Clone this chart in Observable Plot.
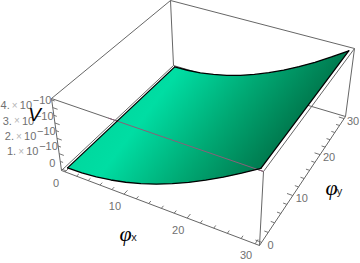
<!DOCTYPE html>
<html><head><meta charset="utf-8">
<script src="https://cdn.jsdelivr.net/npm/d3@7"></script>
<script src="https://cdn.jsdelivr.net/npm/@observablehq/plot@0.6"></script>
<style>html,body{margin:0;padding:0;background:#fff}svg{display:block}</style>
</head><body><div id="chart"></div>
<script>
// Data
const phiX = [0, 2.5, 5, 7.5, 10, 12.5, 15, 17.5, 20, 22.5, 25, 27.5, 30];
const vFront = [0, 0.03, 0.12, 0.28, 0.5, 0.78, 1.12, 1.53, 2.0, 2.53, 3.12, 3.78, 4.5]; // ×10^-10, φy = 0
const vBack  = [0, 0.03, 0.12, 0.28, 0.5, 0.78, 1.12, 1.53, 2.0, 2.53, 3.12, 3.78, 4.5]; // ×10^-10, φy = 30
const phiTicks = [0, 2, 4, 6, 8, 10, 12, 14, 16, 18, 20, 22, 24, 26, 28, 30];
const phiLabels = [0, 10, 20, 30];
const vTicks = [0, 0.5, 1, 1.5, 2, 2.5, 3, 3.5, 4, 4.5];
const vLabels = [1, 2, 3, 4];

// View of the bounding box: screen position of its corners
const floorCorners = [[61, 170], [259, 245], [345, 116], [173, 65]];
const topCorners = [[51, 98], [263, 171], [354, 48], [170, 0]];
const homography = ([[x0, y0], [x1, y1], [x2, y2], [x3, y3]]) => {
  const dx1 = x1 - x2, dx2 = x3 - x2, sx = x0 - x1 + x2 - x3;
  const dy1 = y1 - y2, dy2 = y3 - y2, sy = y0 - y1 + y2 - y3;
  const den = dx1 * dy2 - dx2 * dy1;
  const g = (sx * dy2 - dx2 * sy) / den, h = (dx1 * sy - sx * dy1) / den;
  return (u, v) => {
    const w = g * u + h * v + 1;
    return [((x1 - x0 + g * x1) * u + (x3 - x0 + h * x3) * v + x0) / w,
            ((y1 - y0 + g * y1) * u + (y3 - y0 + h * y3) * v + y0) / w];
  };
};
const floorH = homography(floorCorners), topH = homography(topCorners);
const VMAX = 4.5, PAD = 0.02;
const sc = t => PAD + (1 - 2 * PAD) * t;
const raw = (u, v, w) => {
  const a = floorH(u, v), b = topH(u, v);
  return [a[0] + (b[0] - a[0]) * w, a[1] + (b[1] - a[1]) * w];
};
const project = (px, py, V) => raw(sc(px / 30), sc(py / 30), sc(V / VMAX));
const P = (px, py, V) => { const [x, y] = project(px, py, V); return {x, y}; };

const surface = [
  ...phiX.map((p, i) => P(p, 0, vFront[i])),
  ...phiX.map((p, i) => P(p, 30, vBack[i])).reverse()
];
const frontEdge = phiX.map((p, i) => P(p, 0, vFront[i]));
const backEdge = phiX.map((p, i) => P(p, 30, vBack[i]));
const leftEdge = [P(0, 0, vFront[0]), P(0, 30, vBack[0])];
const rightEdge = [P(30, 0, vFront[12]), P(30, 30, vBack[12])];

const R = (u, v, w) => { const [x, y] = raw(u, v, w); return {x, y}; };
const seg = (a, b) => ({x1: a.x, y1: a.y, x2: b.x, y2: b.y});
const behind = [
  seg(R(0,0,0), R(1,0,0)), seg(R(1,0,0), R(1,1,0)), seg(R(0,0,0), R(0,1,0)), seg(R(1,1,0), R(0,1,0)),
  seg(R(0,0,1), R(0,1,1)), seg(R(0,1,1), R(1,1,1)), seg(R(1,1,1), R(1,0,1)), seg(R(0,0,1), R(1,0,1)),
  seg(R(0,0,0), R(0,0,1)), seg(R(1,0,0), R(1,0,1)), seg(R(1,1,0), R(1,1,1)), seg(R(0,1,0), R(0,1,1))
];
const overSurface = [seg(R(0.295,0,1), R(1,0,1))];

const xTicks = phiTicks.map(p => seg(R(sc(p/30),0,0), R(sc(p/30), p % 10 ? 0.018 : 0.028, 0)));
const yTicks = phiTicks.map(p => seg(R(1, sc(p/30), 0), R(p % 10 ? 0.982 : 0.972, sc(p/30), 0)));
const zTicks = vTicks.map(t => seg(R(0,0,sc(t/VMAX)), R(Number.isInteger(t) ? 0.026 : 0.016,0,sc(t/VMAX))));

const xLab = phiLabels.map(p => ({...R(sc(p/30),0,0), t: String(p)}));
const yLab = phiLabels.map(p => ({...R(1,sc(p/30),0), t: String(p)}));
const zLab = vLabels.map(t => ({...R(0,0,sc(t/VMAX)), n: t + "."}));
const zZero = [R(0,0,sc(0))];

const gray = "#666", tf = "'Liberation Sans', Arial, sans-serif";
const gradient = () => {
  const defs = d3.create("svg:defs");
  const g = defs.append("linearGradient").attr("id", "surf").attr("gradientUnits", "userSpaceOnUse")
    .attr("x1", 100).attr("y1", 100).attr("x2", 262).attr("y2", 222);
  [[0, "#00d69c"], [0.22, "#00dda3"], [0.55, "#00a873"], [1, "#00603a"]].forEach(([o, c]) =>
    g.append("stop").attr("offset", o).attr("stop-color", c));
  return defs.node();
};
const linkOpts = {x1: "x1", y1: "y1", x2: "x2", y2: "y2", stroke: gray, strokeWidth: 1};
const label = {x: "x", y: "y", fontFamily: tf, fontSize: 11, fill: "#707070"};

const chart = Plot.plot({
  width: 360, height: 263, margin: 0,
  x: {domain: [0, 360], range: [0, 360], axis: null},
  y: {domain: [0, 263], range: [0, 263], axis: null},
  style: {background: "#fff"},
  marks: [
    gradient,
    Plot.link(behind, linkOpts),
    Plot.link(xTicks, {...linkOpts, strokeWidth: 0.9}),
    Plot.link(yTicks, {...linkOpts, strokeWidth: 0.9}),
    Plot.link(zTicks, {...linkOpts, strokeWidth: 0.9}),
    Plot.line(surface, {x: "x", y: "y", fill: "url(#surf)", stroke: "none"}),
    Plot.link(overSurface, {...linkOpts, stroke: "#8a5f78", strokeWidth: 1}),
    Plot.line(frontEdge, {x: "x", y: "y", stroke: "#000", strokeWidth: 1.3}),
    Plot.line(backEdge, {x: "x", y: "y", stroke: "#000", strokeWidth: 1.3}),
    Plot.line(leftEdge, {x: "x", y: "y", stroke: "#000", strokeWidth: 1.3}),
    Plot.line(rightEdge, {x: "x", y: "y", stroke: "#000", strokeWidth: 1.3}),
    Plot.text(xLab, {...label, text: "t", dx: -9, dy: 12}),
    Plot.text(yLab, {...label, text: "t", dx: 9, dy: 3}),
    Plot.text(zZero, {...label, text: () => "0", dx: -9, dy: -6}),
    Plot.text(zLab, {...label, text: "n", textAnchor: "end", dx: -43, dy: -2}),
    Plot.text(zLab, {...label, text: () => "×", fill: "#b5b5b5", fontSize: 10, dx: -38, dy: -2}),
    Plot.text(zLab, {...label, text: () => "10", textAnchor: "start", dx: -33, dy: -2}),
    Plot.text(zLab, {...label, text: () => "−10", textAnchor: "start", dx: -20, dy: -7}),
    Plot.text([{x: 34, y: 114}], {x: "x", y: "y", text: () => "V", fontFamily: tf, fontStyle: "italic", fontSize: 19, fill: "#000"}),
    Plot.text([{x: 125, y: 233}], {x: "x", y: "y", text: () => "φ", fontFamily: "'Liberation Serif', serif", fontStyle: "italic", fontSize: 22, fill: "#000"}),
    Plot.text([{x: 133.5, y: 237}], {x: "x", y: "y", text: () => "x", fontFamily: tf, fontSize: 11, fill: "#222"}),
    Plot.text([{x: 331, y: 187}], {x: "x", y: "y", text: () => "φ", fontFamily: "'Liberation Serif', serif", fontStyle: "italic", fontSize: 22, fill: "#000"}),
    Plot.text([{x: 339, y: 191}], {x: "x", y: "y", text: () => "y", fontFamily: tf, fontSize: 11, fill: "#222"})
  ]
});
document.getElementById("chart").append(chart);
</script></body></html>
